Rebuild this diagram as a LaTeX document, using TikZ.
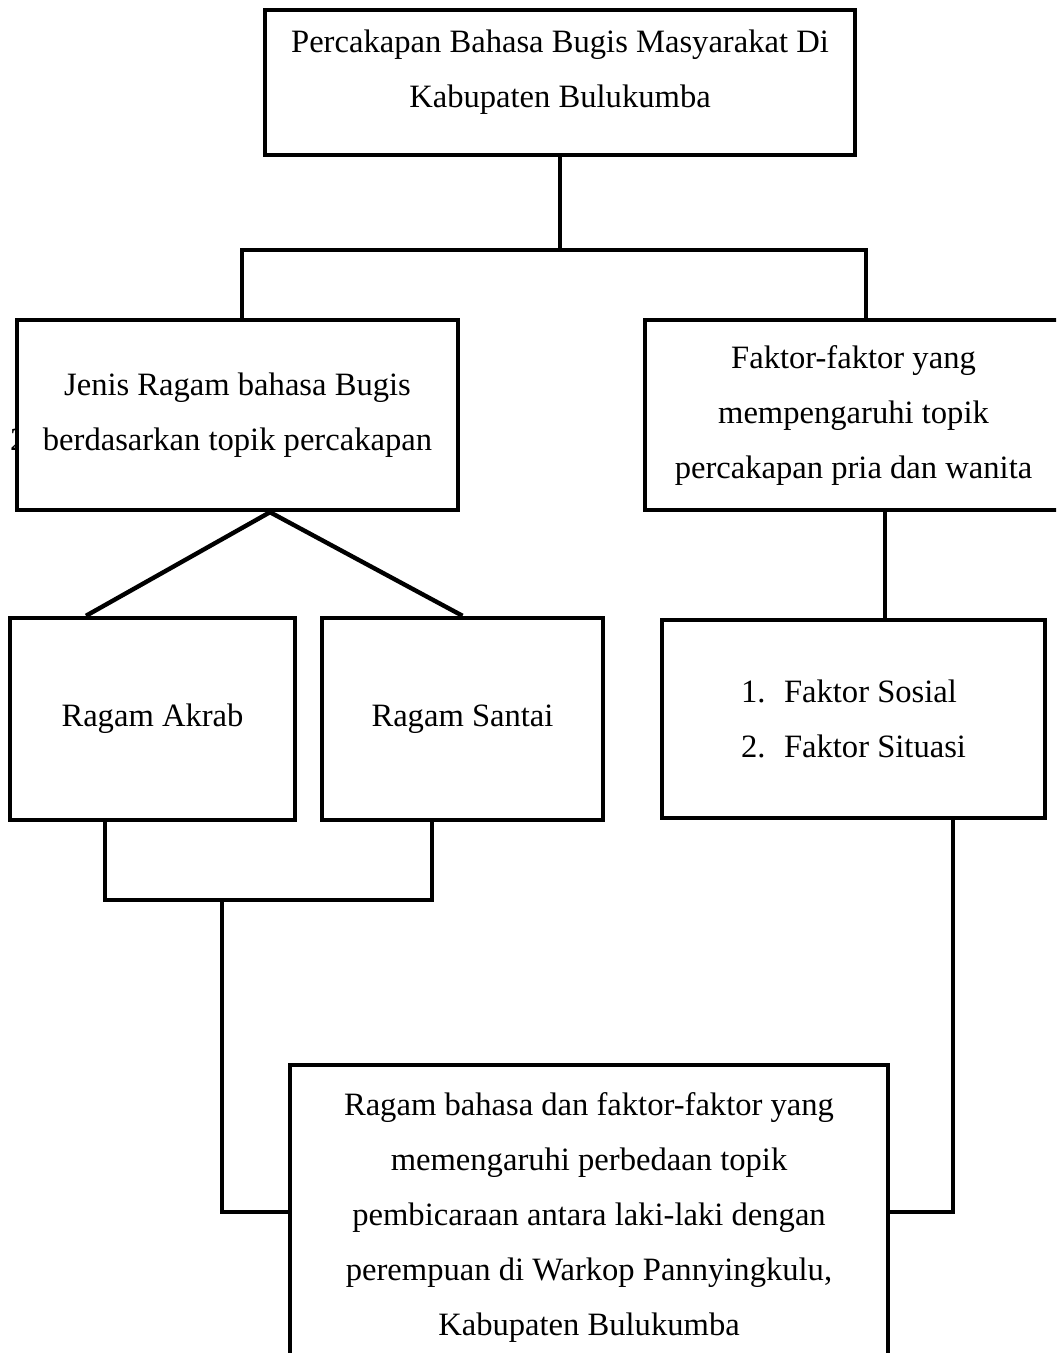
\documentclass[tikz,border=0pt]{standalone}
\usepackage{fontspec}
\setmainfont{Liberation Serif}

\begin{document}
\begin{tikzpicture}[x=0.5pt, y=-0.5pt, line width=2.2pt,
    kotak/.style={draw, fill=white, rectangle, inner sep=0pt, align=center, font=\fontsize{16.3}{27.5}\selectfont},
    teks/.style={inner sep=0pt, align=center, font=\fontsize{16.3}{27.5}\selectfont}]
    \useasboundingbox (0,0) rectangle (1056,1353);
    \clip (0,0) rectangle (1056,1353);
    % angka yang tertutup kotak
    \node[teks, anchor=base west](angka) at (8,450){2};
    % kotak
    \node[kotak, minimum width=295pt, minimum height=72.5pt](judul) at (560,82.5){};
    \node[teks](judulteks) at (560,72){Percakapan Bahasa Bugis Masyarakat Di\\Kabupaten Bulukumba};
    \node[kotak, minimum width=220.5pt, minimum height=95pt](jenis) at (237.5,415){Jenis Ragam bahasa Bugis\\berdasarkan topik percakapan};
    \node[kotak, minimum width=208.5pt, minimum height=95pt](faktor) at (853.5,415){Faktor-faktor yang\\mempengaruhi topik\\percakapan pria dan wanita};
    \node[kotak, minimum width=142.5pt, minimum height=101pt](akrab) at (152.5,719){Ragam Akrab};
    \node[kotak, minimum width=140.5pt, minimum height=101pt](santai) at (462.5,719){Ragam Santai};
    \node[kotak, minimum width=191.5pt, minimum height=99pt, align=left](daftar) at (853.5,719){\makebox[21.5pt][l]{1.}Faktor Sosial\\\makebox[21.5pt][l]{2.}Faktor Situasi};
    \node[kotak, minimum width=299pt, minimum height=152.5pt](hasil) at (589,1217.5){Ragam bahasa dan faktor-faktor yang\\memengaruhi perbedaan topik\\pembicaraan antara laki-laki dengan\\perempuan di Warkop Pannyingkulu,\\Kabupaten Bulukumba};
    % garis
    \coordinate (cabangkiri) at (242,250);
    \coordinate (cabangkanan) at (866,250);
    \draw (judul.south) -- (judul.south |- cabangkiri);
    \draw (jenis.north -| cabangkiri) -- (cabangkiri) -- (cabangkanan) -- (faktor.north -| cabangkanan);
    \coordinate (puncak) at (270,0);
    \coordinate (kakikiri) at (86,0);
    \draw (akrab.north -| kakikiri) -- (jenis.south -| puncak) -- (santai.north);
    \coordinate (gabungkiri) at (105,900);
    \coordinate (gabungkanan) at (432,900);
    \draw (akrab.south -| gabungkiri) -- (gabungkiri) -- (gabungkanan) -- (santai.south -| gabungkanan);
    \coordinate (turun) at (222,900);
    \coordinate (belok) at (222,1212);
    \draw (turun) -- (belok) -- (hasil.west |- belok);
    \coordinate (sambung) at (885,0);
    \draw (faktor.south -| sambung) -- (daftar.north -| sambung);
    \coordinate (belokkanan) at (953,1212);
    \draw (daftar.south -| belokkanan) -- (belokkanan) -- (hasil.east |- belokkanan);
\end{tikzpicture}
\end{document}
